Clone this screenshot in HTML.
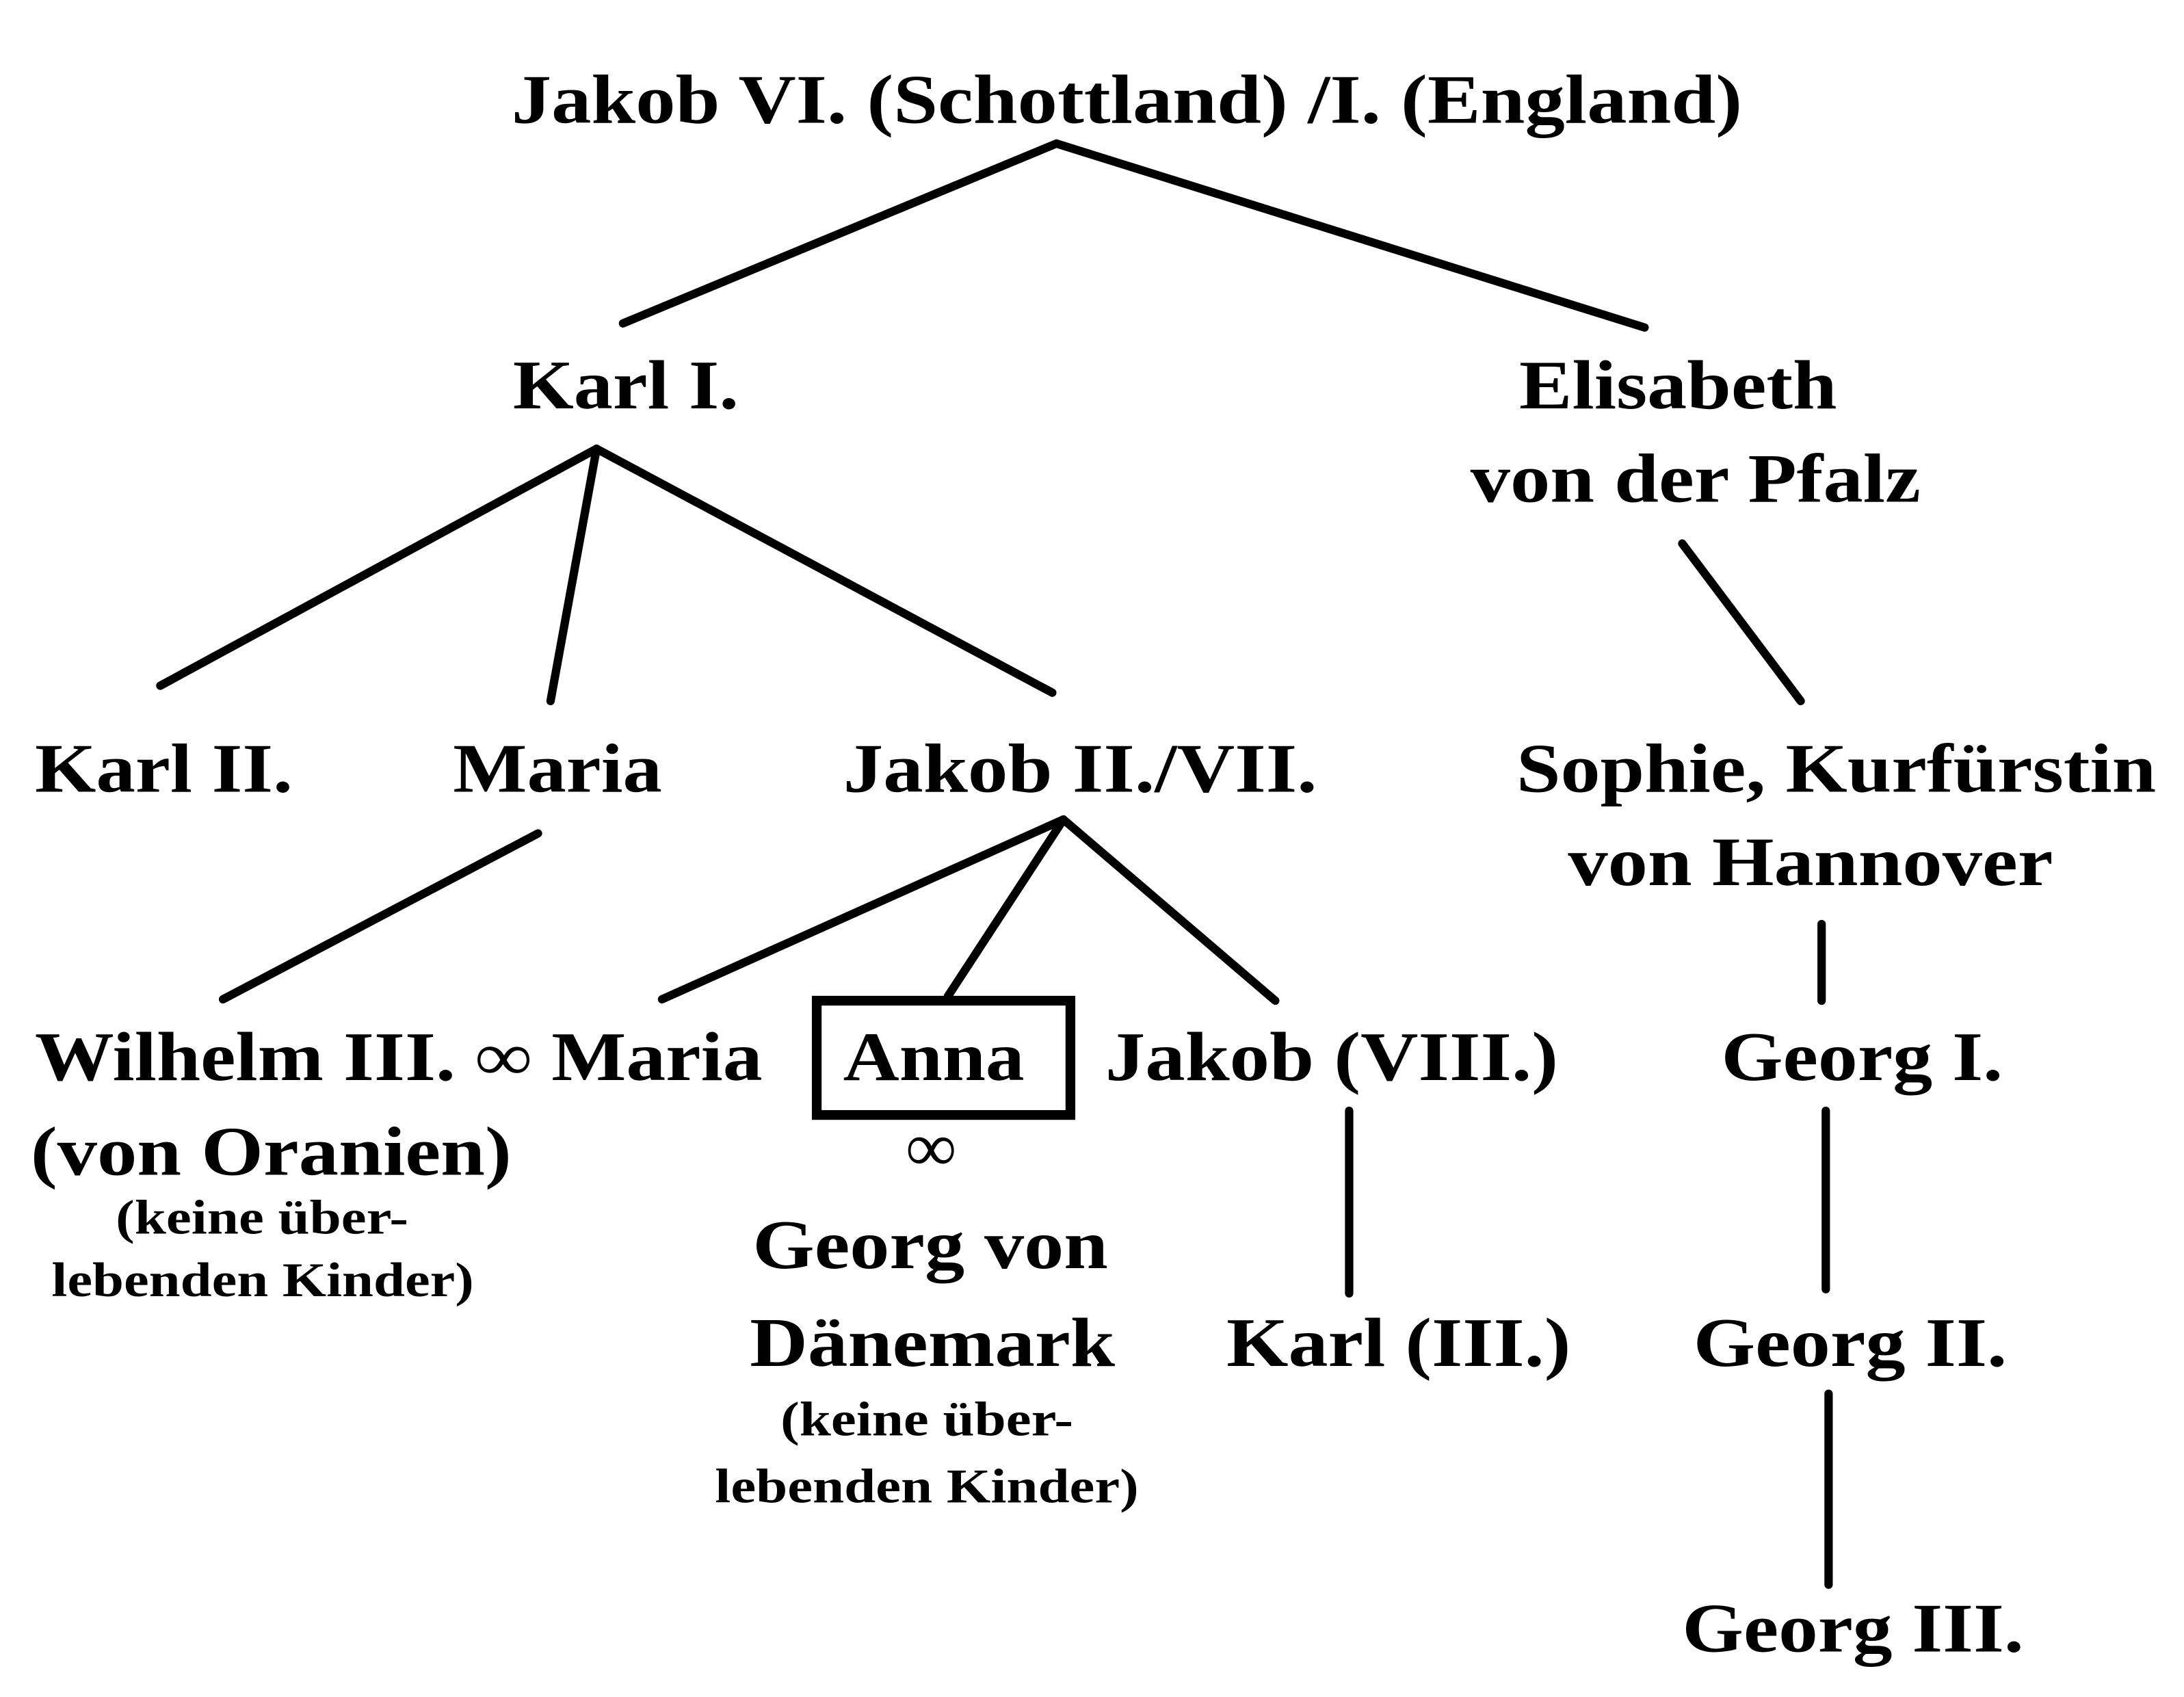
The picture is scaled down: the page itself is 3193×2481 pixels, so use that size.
<!DOCTYPE html>
<html><head><meta charset="utf-8"><style>
html,body{margin:0;padding:0;background:#fff;}
svg{display:block;}
text{font-family:"Liberation Serif",serif;font-weight:bold;fill:#000;}
.b{font-size:50px;}
.s{font-size:35px;}
</style></head><body>
<svg width="3193" height="2481" viewBox="0 0 1567 1217.6" xmlns="http://www.w3.org/2000/svg">
<rect width="1567" height="1218" fill="#fff"/>
<g stroke="#000" stroke-width="6" stroke-linecap="round" fill="none">
<line x1="758" y1="103" x2="447" y2="232"/>
<line x1="758" y1="103" x2="1180" y2="235"/>
<line x1="428" y1="322" x2="115" y2="492"/>
<line x1="428" y1="322" x2="395" y2="503"/>
<line x1="428" y1="322" x2="755" y2="497"/>
<line x1="1207" y1="390" x2="1292" y2="503"/>
<line x1="386" y1="598" x2="160" y2="717"/>
<line x1="763" y1="588" x2="475" y2="717"/>
<line x1="763" y1="588" x2="680" y2="715"/>
<line x1="763" y1="588" x2="915" y2="718"/>
<line x1="1307" y1="663" x2="1307" y2="718"/>
<line x1="968" y1="797" x2="968" y2="928"/>
<line x1="1310" y1="797" x2="1310" y2="925"/>
<line x1="1312" y1="1000" x2="1312" y2="1137"/>
<rect x="586" y="718" width="182" height="82" stroke-width="7"/>
</g>
<text class="b" x="367" y="88" textLength="883" lengthAdjust="spacingAndGlyphs">Jakob VI. (Schottland) /I. (England)</text>
<text class="b" x="368" y="293" textLength="162" lengthAdjust="spacingAndGlyphs">Karl I.</text>
<text class="b" x="1090" y="293" textLength="228" lengthAdjust="spacingAndGlyphs">Elisabeth</text>
<text class="b" x="1055" y="360" textLength="323" lengthAdjust="spacingAndGlyphs">von der Pfalz</text>
<text class="b" x="25" y="568" textLength="185" lengthAdjust="spacingAndGlyphs">Karl II.</text>
<text class="b" x="325" y="568" textLength="150" lengthAdjust="spacingAndGlyphs">Maria</text>
<text class="b" x="605" y="568" textLength="340" lengthAdjust="spacingAndGlyphs">Jakob II./VII.</text>
<text class="b" x="1088" y="568" textLength="459" lengthAdjust="spacingAndGlyphs">Sophie, Kurfürstin</text>
<text class="b" x="1125" y="635" textLength="348" lengthAdjust="spacingAndGlyphs">von Hannover</text>
<text class="b" x="25" y="775" textLength="522" lengthAdjust="spacingAndGlyphs">Wilhelm III. ∞ Maria</text>
<text class="b" x="605" y="775" textLength="130" lengthAdjust="spacingAndGlyphs">Anna</text>
<text class="b" x="793" y="775" textLength="325" lengthAdjust="spacingAndGlyphs">Jakob (VIII.)</text>
<text class="b" x="1235" y="775" textLength="202" lengthAdjust="spacingAndGlyphs">Georg I.</text>
<text class="b" x="22" y="843" textLength="345" lengthAdjust="spacingAndGlyphs">(von Oranien)</text>
<text class="s" x="83" y="885" textLength="210" lengthAdjust="spacingAndGlyphs">(keine über-</text>
<text class="s" x="37" y="930" textLength="303" lengthAdjust="spacingAndGlyphs">lebenden Kinder)</text>
<text class="b" x="668" y="840" text-anchor="middle">∞</text>
<text class="b" x="540" y="910" textLength="255" lengthAdjust="spacingAndGlyphs">Georg von</text>
<text class="b" x="538" y="980" textLength="262" lengthAdjust="spacingAndGlyphs">Dänemark</text>
<text class="s" x="560" y="1030" textLength="210" lengthAdjust="spacingAndGlyphs">(keine über-</text>
<text class="s" x="513" y="1078" textLength="304" lengthAdjust="spacingAndGlyphs">lebenden Kinder)</text>
<text class="b" x="880" y="980" textLength="247" lengthAdjust="spacingAndGlyphs">Karl (III.)</text>
<text class="b" x="1215" y="980" textLength="225" lengthAdjust="spacingAndGlyphs">Georg II.</text>
<text class="b" x="1207" y="1185" textLength="245" lengthAdjust="spacingAndGlyphs">Georg III.</text>
</svg>
</body></html>
